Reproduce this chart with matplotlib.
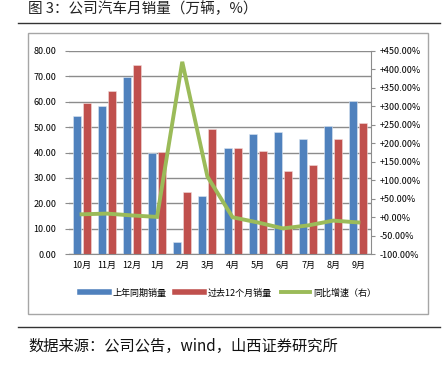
import numpy as np
import matplotlib.pyplot as plt
from matplotlib.patches import Rectangle
from matplotlib.lines import Line2D

plt.rcParams['font.family'] = ['Noto Sans CJK SC', 'DejaVu Sans']

# data
months = ['10月', '11月', '12月', '1月', '2月', '3月', '4月', '5月', '6月', '7月', '8月', '9月']
last_year = [54.3, 58.1, 69.6, 40.0, 4.7, 23.0, 41.6, 47.3, 47.9, 45.5, 50.4, 60.1]
past_12m = [59.6, 64.1, 74.5, 40.3, 24.6, 49.2, 41.8, 40.6, 32.9, 35.1, 45.3, 51.4]
yoy_growth = [8, 10, 5, 1, 420, 110, 0, -14, -30, -22, -9, -14]

series_names = ['上年同期销量', '过去12个月销量', '同比增速（右）']
blue, red, green = '#4F81BD', '#C0504D', '#9BBB59'
grid_c = '#8c8c8c'

fig = plt.figure(figsize=(4.45, 3.69), dpi=100)

# title, rules and source note
fig.text(28 / 445, 1 - 9 / 369, '图 3：公司汽车月销量（万辆，%）', fontsize=10.5,
         va='center', ha='left', color='#222222')
fig.add_artist(Line2D([18 / 445, 440 / 445], [1 - 23 / 369] * 2, color='#333333', lw=1))
fig.add_artist(Line2D([18 / 445, 440 / 445], [1 - 327 / 369] * 2, color='#333333', lw=1))
fig.text(28 / 445, 1 - 346 / 369, '数据来源：公司公告，wind，山西证券研究所', fontsize=11,
         va='center', ha='left', color='#111111')

# chart frame
fig.add_artist(Rectangle((28 / 445, 1 - 314 / 369), 400 / 445, 281 / 369,
                         transform=fig.transFigure, fill=False, edgecolor='#a6a6a6', lw=1))

ax = fig.add_axes([69 / 445, 1 - 254.3 / 369, 302 / 445, 203.6 / 369])
x = np.arange(len(months))
w = 0.32
ax.bar(x - 0.2, last_year, w, color=blue, edgecolor='#dbe5f1', linewidth=0.4, zorder=2)
ax.bar(x + 0.2, past_12m, w, color=red, edgecolor='#f2dcdb', linewidth=0.4, zorder=2)
ax.set_xlim(-0.5, len(months) - 0.5)
ax.set_ylim(0, 80)
ax.set_yticks(np.arange(0, 81, 10))
ax.set_yticklabels([f'{v:.2f}' for v in np.arange(0, 81, 10)], fontsize=6.5)
ax.set_xticks(x)
ax.set_xticklabels(months, fontsize=6.5)
ax.yaxis.grid(True, color=grid_c, lw=1, zorder=0)
ax.set_axisbelow(True)
ax.tick_params(axis='y', length=3, color=grid_c, pad=6)
ax.tick_params(axis='x', length=0, pad=5)
for s in ['top', 'left', 'right']:
    ax.spines[s].set_visible(False)
ax.spines['bottom'].set_color(grid_c)

ax2 = ax.twinx()
ax2.plot(x, yoy_growth, color=green, lw=2.8, zorder=3, solid_joinstyle='miter')
ax2.set_ylim(-100, 450)
rt = np.arange(-100, 451, 50)
ax2.set_yticks(rt)
ax2.set_yticklabels([f'{v:+.2f}%' if v != 0 else '+0.00%' for v in rt], fontsize=6.5)
ax2.tick_params(axis='y', length=3, color=grid_c, pad=3)
for s in ['top', 'left', 'bottom']:
    ax2.spines[s].set_visible(False)
ax2.spines['right'].set_color(grid_c)

# legend below the plot
handles = [Line2D([], [], color=c, lw=4 if c != green else 2.8) for c in (blue, red, green)]
fig.legend(handles, series_names, loc='center', bbox_to_anchor=(228 / 445, 1 - 293 / 369),
           ncol=3, frameon=False, fontsize=6.5, handlelength=3.2, handletextpad=0.4,
           columnspacing=1.0)

fig.savefig('out.png', dpi=100)
